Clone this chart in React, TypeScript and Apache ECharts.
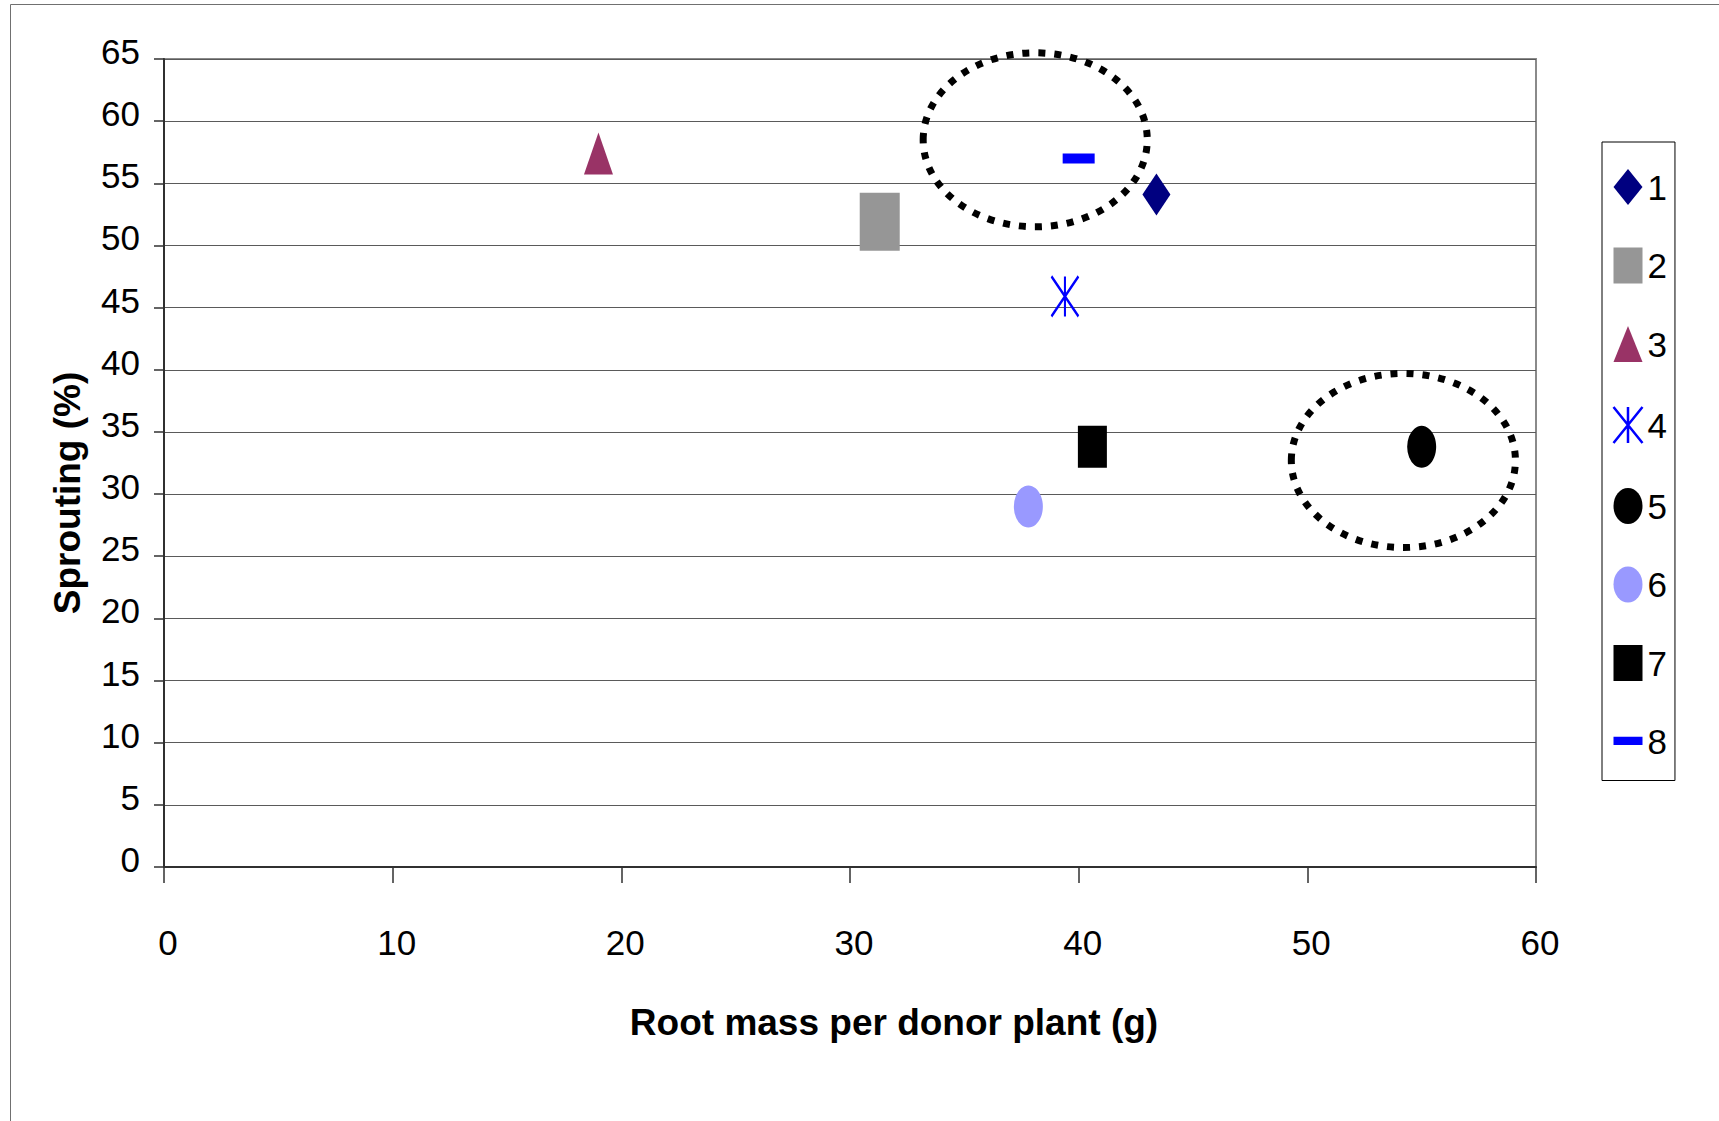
import React, { useEffect, useRef } from 'react';
import * as echarts from 'echarts';

// ---- data ----
const seriesNames = ['1', '2', '3', '4', '5', '6', '7', '8'];
const rootMass = [43.4, 31.3, 19.0, 39.4, 55.0, 37.8, 40.6, 40.0];
const sprouting = [54.1, 51.9, 57.4, 45.9, 33.8, 29.0, 33.8, 57.0];
// dotted highlight ellipses (data units)
const circledX = [38.1, 54.2];
const circledY = [58.5, 32.7];
const circledRx = [4.9, 4.9];
const circledRy = [7.0, 7.0];

const xAxisTitle = 'Root mass per donor plant (g)';
const yAxisTitle = 'Sprouting (%)';

const FONT = '"Liberation Sans", Arial, Helvetica, sans-serif';

const asteriskPath = 'path://M0 0 L20 30 M20 0 L0 30 M10 0 L10 30';

// legend icons drawn in a 24x30 box
const legendIcons = [
  'path://M12 0 L24 15 L12 30 L0 15 Z',
  'path://M1 0 L23 0 L23 30 L1 30 Z',
  'path://M12 0 L24 30 L0 30 Z',
  'path://M0 0 L20 30 M20 0 L0 30 M10 0 L10 30',
  'path://M12 0 A12 15 0 1 1 12 30 A12 15 0 1 1 12 0 Z',
  'path://M12 0 A12 15 0 1 1 12 30 A12 15 0 1 1 12 0 Z',
  'path://M1 0 L23 0 L23 30 L1 30 Z',
  'path://M0 0 L0.05 0 M0 11 L24 11 L24 18 L0 18 Z M24 30 L23.95 30',
];

const markerStyles: any[] = [
  { symbol: 'diamond', size: [28, 42], color: '#000080' },
  { symbol: 'rect', size: [40, 58], color: '#969696' },
  { symbol: 'triangle', size: [29, 42], color: '#993366' },
  { symbol: asteriskPath, size: [27, 40], color: 'none', border: '#0000FF' },
  { symbol: 'circle', size: [29, 42], color: '#000000' },
  { symbol: 'circle', size: [29, 42], color: '#9999FF' },
  { symbol: 'rect', size: [29, 42], color: '#000000' },
  { symbol: 'rect', size: [32, 10], color: '#0000FF' },
];

export default function App() {
  const ref = useRef<HTMLDivElement>(null);

  useEffect(() => {
    if (!ref.current) return;
    const chart = echarts.init(ref.current, null, { renderer: 'svg' });

    const scatterSeries = seriesNames.map((name, i) => {
      const m = markerStyles[i];
      return {
        type: 'scatter',
        name,
        data: [[rootMass[i], sprouting[i]]],
        symbol: m.symbol,
        symbolSize: m.size,
        itemStyle: m.border
          ? { color: 'none', borderColor: m.border, borderWidth: 2.5, opacity: 1 }
          : { color: m.color, borderWidth: 0, opacity: 1 },
        emphasis: { disabled: true },
        z: 3,
      };
    });

    const ellipseSeries = {
      type: 'custom',
      name: 'highlight',
      silent: true,
      z: 4,
      data: circledX.map((x, i) => [x, circledY[i], circledRx[i], circledRy[i]]),
      renderItem: (params: any, api: any) => {
        const c = api.coord([api.value(0), api.value(1)]);
        const e = api.coord([api.value(0) + api.value(2), api.value(1) + api.value(3)]);
        return {
          type: 'ellipse',
          shape: { cx: c[0], cy: c[1], rx: e[0] - c[0], ry: c[1] - e[1] },
          style: { fill: 'none', stroke: '#000', lineWidth: 7, lineDash: [7, 9] },
        };
      },
    };

    const legendData = seriesNames.map((name, i) => {
      const m = markerStyles[i];
      if (m.border) {
        return {
          name,
          icon: legendIcons[i],
          itemStyle: { color: 'none', borderColor: m.border, borderWidth: 2.5, opacity: 1 },
        };
      }
      return {
        name,
        icon: legendIcons[i],
        itemStyle: { color: m.color, borderWidth: 0, opacity: 1 },
      };
    });

    chart.setOption({
      animation: false,
      backgroundColor: '#fff',
      grid: {
        left: 164,
        right: 183,
        top: 59,
        bottom: 254,
        show: true,
        borderColor: '#8a8a8a',
        borderWidth: 2,
      },
      xAxis: {
        type: 'value',
        min: 0,
        max: 60,
        interval: 10,
        axisLine: { show: true, onZero: false, lineStyle: { color: '#303030', width: 2 } },
        axisTick: { show: true, inside: false, length: 16, lineStyle: { color: '#303030', width: 1.5 } },
        axisLabel: {
          fontFamily: FONT,
          fontSize: 35,
          lineHeight: 35,
          color: '#000',
          margin: 58,
          padding: [0, 0, 0, 8],
        },
        splitLine: { show: false },
      },
      yAxis: {
        type: 'value',
        min: 0,
        max: 65,
        interval: 5,
        axisLine: { show: true, onZero: false, lineStyle: { color: '#303030', width: 2 } },
        axisTick: { show: true, inside: false, length: 10, lineStyle: { color: '#303030', width: 1.5 } },
        axisLabel: {
          fontFamily: FONT,
          fontSize: 35,
          lineHeight: 15,
          verticalAlign: 'bottom',
          color: '#000',
          margin: 24,
        },
        splitLine: { show: true, lineStyle: { color: '#5a5a5a', width: 1.2 } },
      },
      legend: {
        orient: 'vertical',
        left: 1602,
        top: 142,
        padding: [27, 8, 21, 9],
        itemWidth: 29,
        itemHeight: 36,
        itemGap: 42.5,
        symbolKeepAspect: false,
        borderColor: '#000',
        borderWidth: 1,
        selectedMode: false,
        textStyle: { fontFamily: FONT, fontSize: 35, lineHeight: 30, color: '#000' },
        data: legendData,
      },
      graphic: [
        {
          type: 'rect',
          silent: true,
          shape: { x: 10.5, y: 4.5, width: 1800, height: 1200 },
          style: { fill: 'none', stroke: '#707070', lineWidth: 1 },
          z: -1,
        },
        {
          type: 'text',
          x: 894,
          y: 1022,
          style: {
            text: xAxisTitle,
            fontFamily: FONT,
            fontSize: 37,
            fontWeight: 'bold',
            fill: '#000',
            align: 'center',
            verticalAlign: 'middle',
          },
        },
        {
          type: 'text',
          x: 67,
          y: 493,
          rotation: Math.PI / 2,
          style: {
            text: yAxisTitle,
            fontFamily: FONT,
            fontSize: 37,
            fontWeight: 'bold',
            fill: '#000',
            align: 'center',
            verticalAlign: 'middle',
          },
        },
      ],
      series: [...scatterSeries, ellipseSeries],
    });

    return () => chart.dispose();
  }, []);

  return (
    <div
      ref={ref}
      style={{ position: 'fixed', left: 0, top: 0, width: 1719, height: 1121, background: '#fff' }}
    />
  );
}
